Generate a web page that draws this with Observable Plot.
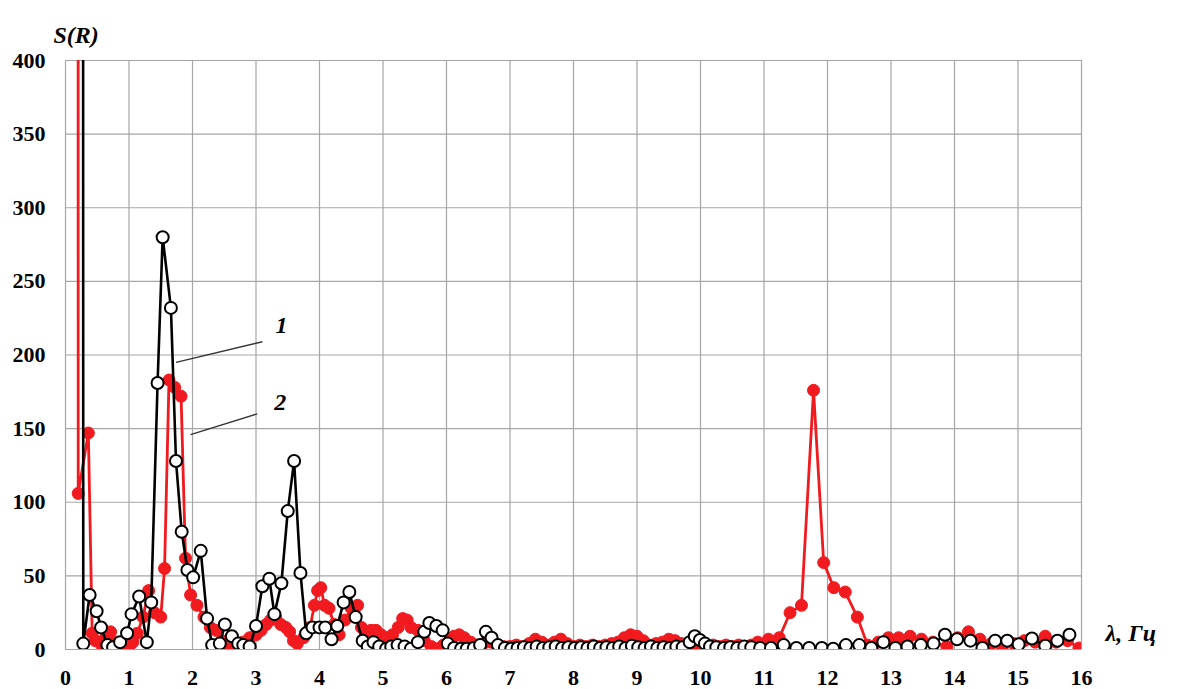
<!DOCTYPE html>
<html>
<head>
<meta charset="utf-8">
<script src="https://cdn.jsdelivr.net/npm/d3@7"></script>
<script src="https://cdn.jsdelivr.net/npm/@observablehq/plot@0.6"></script>
<style>
  html, body { margin: 0; padding: 0; background: #fff; }
  #chart { width: 1178px; height: 689px; }
</style>
</head>
<body>
<div id="chart"></div>
<script>
// Axis ticks
const xTicks = [0, 1, 2, 3, 4, 5, 6, 7, 8, 9, 10, 11, 12, 13, 14, 15, 16];
const yTicks = [0, 50, 100, 150, 200, 250, 300, 350, 400];

// Curve 1 (open circles): frequency λ, Hz and spectral density S(R)
const freq1 = [0.26, 0.28, 0.38, 0.49, 0.56, 0.66, 0.75, 0.86, 0.97, 1.04, 1.16, 1.28, 1.35, 1.45, 1.53, 1.66, 1.74, 1.83, 1.92, 2.01,
  2.13, 2.23, 2.31, 2.43, 2.51, 2.62, 2.72, 2.80, 2.90, 3.00, 3.10, 3.21, 3.29, 3.40, 3.50, 3.60, 3.70, 3.79, 3.89, 4.00,
  4.09, 4.19, 4.28, 4.38, 4.47, 4.57, 4.68, 4.76, 4.85, 4.94, 5.05, 5.13, 5.23, 5.34, 5.44, 5.55, 5.65, 5.73, 5.84, 5.94,
  6.02, 6.12, 6.23, 6.32, 6.43, 6.53, 6.62, 6.71, 6.81, 6.92, 7.02, 7.12, 7.22, 7.32, 7.42, 7.52, 7.62, 7.72, 7.82, 7.92,
  8.02, 8.12, 8.22, 8.32, 8.42, 8.52, 8.62, 8.72, 8.82, 8.92, 9.02, 9.12, 9.22, 9.32, 9.42, 9.52, 9.62, 9.72, 9.83, 9.91,
  9.99, 10.07, 10.15, 10.25, 10.37, 10.47, 10.58, 10.69, 10.80, 10.94, 11.11, 11.31, 11.51, 11.71, 11.91, 12.09, 12.29, 12.50, 12.69, 12.88,
  13.07, 13.26, 13.47, 13.67, 13.85, 14.04, 14.25, 14.44, 14.64, 14.83, 15.01, 15.22, 15.43, 15.62, 15.81];
const s1 = [3000, 4, 37, 26, 15, 3, 1.5, 5, 11, 24, 36, 5, 32, 181, 280, 232, 128, 80, 54, 49,
  67, 21, 3, 4, 17, 9, 4, 3, 2, 16, 43, 48, 24, 45, 94, 128, 52, 11, 15, 15,
  15, 7, 16, 32, 39, 22, 6, 2, 5, 2, 0.5, 2, 3, 2, 0.5, 5, 12, 18, 16, 13,
  4, 1, 0.5, 0.5, 1, 3, 12, 8, 3, 1, 0.5, 1, 1.5, 1, 2, 1, 1.5, 2, 1, 1.5,
  1, 1.5, 1, 2, 1, 1.5, 1, 2, 1, 2.5, 1.5, 1, 2, 1, 1.5, 1, 2, 1.5, 5, 9,
  6.5, 4, 2, 1.5, 1, 1.5, 1, 2, 1.5, 1, 1, 3, 1, 1, 1, 0.5, 3, 3, 1, 5,
  1, 2, 3, 4, 10, 7, 6, 1, 6, 6, 3.5, 7.5, 2.5, 6, 10];

// Curve 2 (filled red circles)
const freq2 = [0.19, 0.20, 0.36, 0.42, 0.47, 0.57, 0.63, 0.71, 0.79, 0.89, 1.00, 1.06, 1.13, 1.22, 1.31, 1.40, 1.50, 1.56, 1.63, 1.72,
  1.82, 1.89, 1.97, 2.07, 2.18, 2.28, 2.37, 2.46, 2.55, 2.66, 2.79, 2.90, 3.00, 3.08, 3.16, 3.23, 3.31, 3.39, 3.47, 3.53,
  3.59, 3.65, 3.75, 3.85, 3.92, 3.97, 4.02, 4.08, 4.15, 4.23, 4.31, 4.40, 4.50, 4.60, 4.66, 4.72, 4.81, 4.89, 4.97, 5.05,
  5.15, 5.24, 5.31, 5.38, 5.44, 5.55, 5.65, 5.76, 5.85, 5.95, 6.05, 6.12, 6.20, 6.28, 6.38, 6.48, 6.58, 6.70, 6.80, 6.90,
  7.00, 7.10, 7.20, 7.30, 7.40, 7.50, 7.60, 7.70, 7.80, 7.90, 8.00, 8.10, 8.20, 8.30, 8.40, 8.50, 8.60, 8.70, 8.80, 8.90,
  9.00, 9.10, 9.20, 9.30, 9.40, 9.50, 9.60, 9.70, 9.80, 9.90, 10.00, 10.10, 10.20, 10.30, 10.40, 10.50, 10.60, 10.70, 10.80, 10.90,
  11.07, 11.24, 11.41, 11.59, 11.78, 11.94, 12.10, 12.28, 12.47, 12.63, 12.80, 12.96, 13.12, 13.30, 13.48, 13.66, 13.88, 14.05, 14.22, 14.40,
  14.58, 14.75, 14.93, 15.10, 15.27, 15.43, 15.60, 15.78, 15.96];
const s2 = [3000, 106, 147, 11, 6, 3, 8, 12, 5, 0.5, 2, 5, 11, 22, 40, 25, 22, 55, 183, 178,
  172, 62, 37, 30, 22, 15, 13, 6, 0.5, 2, 5, 8, 10, 13, 17, 20, 22, 17, 15, 12,
  6, 4, 8, 15, 30, 40, 42, 30, 28, 17, 10, 20, 28, 30, 15, 8, 13, 13, 10, 8,
  10, 15, 21, 20, 15, 13, 6, 2, 0.5, 3, 6, 9, 10, 8, 5, 3, 4, 5, 3, 2,
  2, 3, 2, 4, 7, 5, 3, 5, 7, 4, 2, 3, 2, 3, 2, 3, 4, 5, 8, 10,
  9, 6, 3, 4, 5, 7, 6, 4, 3, 2, 0.5, 2, 3, 2, 3, 2, 3, 2, 3, 5,
  7, 8, 25, 30, 176, 59, 42, 39, 22, 3, 5, 8, 8, 9, 7, 5, 2, 8, 12, 7,
  4, 0.5, 4, 6, 5, 9, 5, 6, 1];

// Curve labels with leader lines (data units)
const calloutLabels = ["1", "2"];
const calloutTextX = [3.40, 3.38];
const calloutTextY = [220, 168];
const leaderFromX = [3.10, 3.02];
const leaderFromY = [209, 160];
const leaderToX = [1.74, 1.97];
const leaderToY = [195, 146];

const curve1 = freq1.map((f, i) => ({f, s: s1[i]}));
const curve2 = freq2.map((f, i) => ({f, s: s2[i]}));
const callouts = calloutLabels.map((label, i) => ({
  label, tx: calloutTextX[i], ty: calloutTextY[i],
  x1: leaderFromX[i], y1: leaderFromY[i], x2: leaderToX[i], y2: leaderToY[i]
}));

const RED = "#f01a1f";
const serif = "'Liberation Serif', 'Times New Roman', serif";

const chart = Plot.plot({
  width: 1178,
  height: 689,
  marginLeft: 65,
  marginRight: 97,
  marginTop: 60,
  marginBottom: 40,
  x: {domain: [0, 16]},
  y: {domain: [0, 400]},
  style: {fontFamily: serif, fontWeight: "bold", fontSize: "22px", background: "#fff", color: "#000", overflow: "visible"},
  marks: [
    Plot.gridX(xTicks, {stroke: "#a6a6a6", strokeOpacity: 1, strokeWidth: 1.2}),
    Plot.gridY(yTicks, {stroke: "#a6a6a6", strokeOpacity: 1, strokeWidth: 1.2}),
    Plot.axisX(xTicks, {tickSize: 0, tickPadding: 20, label: null, fontSize: 22, fontWeight: "bold"}),
    Plot.axisY(yTicks, {tickSize: 0, tickPadding: 20, label: null, fontSize: 22, fontWeight: "bold"}),
    // curve 2
    Plot.line(curve2, {x: "f", y: "s", stroke: RED, strokeWidth: 2.8, clip: true}),
    Plot.dot(curve2, {x: "f", y: "s", r: 6, fill: RED, stroke: RED, strokeWidth: 1, clip: true}),
    // curve 1
    Plot.line(curve1, {x: "f", y: "s", stroke: "#000", strokeWidth: 2.6, clip: true}),
    Plot.dot(curve1, {x: "f", y: "s", r: 6, fill: "#fff", stroke: "#000", strokeWidth: 2, clip: true}),
    // curve labels
    Plot.link(callouts, {x1: "x1", y1: "y1", x2: "x2", y2: "y2", stroke: "#333", strokeWidth: 1.3}),
    Plot.text(callouts, {x: "tx", y: "ty", text: "label", fontSize: 24, fontStyle: "italic", fontWeight: "bold"}),
    // axis titles
    Plot.text(["S(R)"], {text: d => d, frameAnchor: "top-left", dx: -12, dy: -35, textAnchor: "start",
      fontSize: 24, fontStyle: "italic", fontWeight: "bold"}),
    Plot.text(["λ, Гц"], {text: d => d, frameAnchor: "bottom-right", dx: 24, dy: -9, textAnchor: "start",
      fontSize: 24, fontStyle: "italic", fontWeight: "bold"})
  ]
});

document.getElementById("chart").appendChild(chart);
</script>
</body>
</html>
